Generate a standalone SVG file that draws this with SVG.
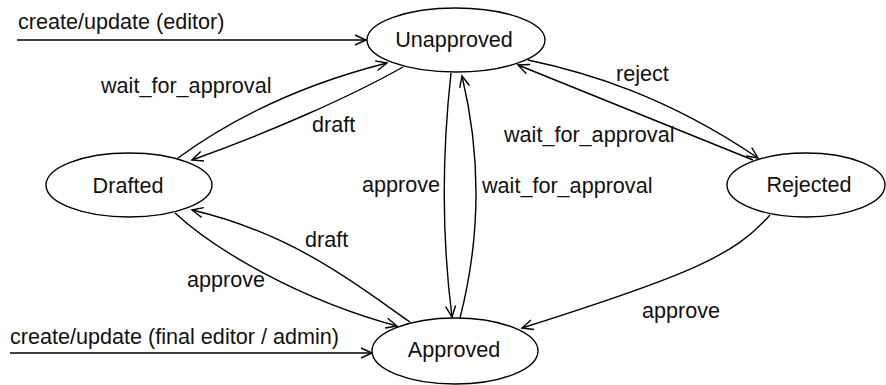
<svg xmlns="http://www.w3.org/2000/svg" width="886" height="385" viewBox="0 0 886 385">
<defs>
<marker id="arr" markerUnits="userSpaceOnUse" markerWidth="16" markerHeight="14" refX="0" refY="0" viewBox="-12 -7 14 14" orient="auto" overflow="visible">
<path d="M-11,-5 L0,0 L-11,5" fill="none" stroke="#000" stroke-width="1.4"/>
</marker>
<style>
.node ellipse{fill:#fff;stroke:#000;stroke-width:1.4}
text{font-family:"Liberation Sans",Arial,sans-serif;font-size:21.6px;fill:#111}
.node text{text-anchor:middle}
.edges path{fill:none;stroke:#000;stroke-width:1.4;marker-end:url(#arr)}
</style>
</defs>
<rect width="886" height="385" fill="#fff"/>
<g class="edges" id="connectors">
<path d="M17,40 L366,40"/>
<path d="M10,353 L372,353"/>
<path d="M178,158 C230,120 300,85 387,63"/>
<path d="M403,67 C350,97 270,132 192,160"/>
<path d="M451,73 Q437,200 452,317"/>
<path d="M460,318 Q491,197 462,76"/>
<path d="M528,60 C585,72 665,95 758,158"/>
<path d="M753,160 Q640,114 518,65"/>
<path d="M175,213 C215,250 300,300 397,326"/>
<path d="M410,322 C370,295 300,235 192,210"/>
<path d="M770,215 C735,255 690,275 522,328"/>
</g>
<g id="labels">
<text x="18" y="29">create/update (editor)</text>
<text x="10" y="344">create/update (final editor / admin)</text>
<text x="101" y="93">wait_for_approval</text>
<text x="312" y="132">draft</text>
<text x="362" y="192">approve</text>
<text x="482" y="193">wait_for_approval</text>
<text x="616" y="81">reject</text>
<text x="504" y="142">wait_for_approval</text>
<text x="187" y="287">approve</text>
<text x="305" y="247">draft</text>
<text x="642" y="318">approve</text>
</g>
<g class="node" id="unapproved"><ellipse cx="456" cy="40" rx="89" ry="32"/><text x="454" y="47">Unapproved</text></g>
<g class="node" id="drafted"><ellipse cx="129" cy="185" rx="83" ry="32"/><text x="128" y="193">Drafted</text></g>
<g class="node" id="rejected"><ellipse cx="806" cy="185" rx="79" ry="32"/><text x="809" y="192">Rejected</text></g>
<g class="node" id="approved"><ellipse cx="455" cy="351" rx="83" ry="33"/><text x="454" y="357">Approved</text></g>
</svg>
